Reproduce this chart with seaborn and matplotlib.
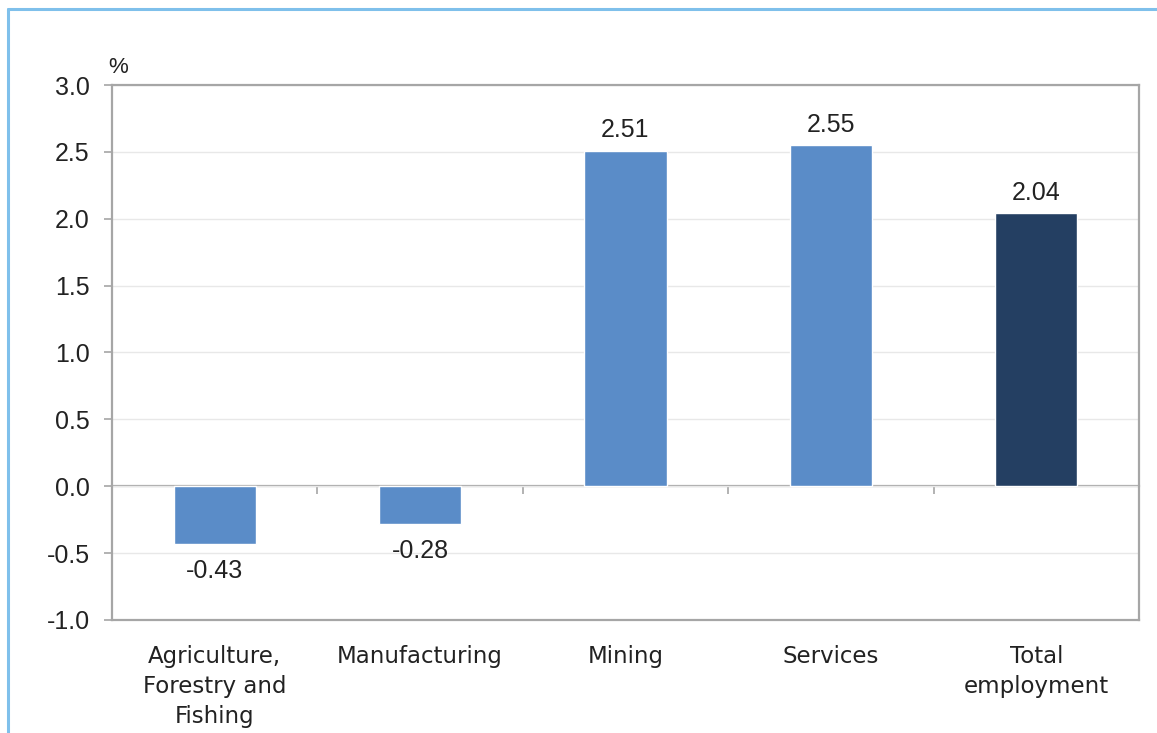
import matplotlib
matplotlib.use("Agg")
import matplotlib.pyplot as plt
from matplotlib.lines import Line2D
import seaborn as sns
import pandas as pd

categories = ["Agriculture,\nForestry and\nFishing", "Manufacturing", "Mining",
              "Services", "Total\nemployment"]
values = [-0.43, -0.28, 2.51, 2.55, 2.04]
bar_colors = ["#5a8cc8", "#5a8cc8", "#5a8cc8", "#5a8cc8", "#243f62"]
y_ticks = [-1.0, -0.5, 0.0, 0.5, 1.0, 1.5, 2.0, 2.5, 3.0]

sns.set_theme(style="white")
plt.rcParams["font.family"] = ["Liberation Sans", "DejaVu Sans"]

df = pd.DataFrame({"category": categories, "value": values})

fig = plt.figure(figsize=(11.57, 7.33), dpi=100)
ax = fig.add_axes([0.0968, 0.1542, 0.8876, 0.7298])

sns.barplot(data=df, x="category", y="value", hue="category",
            palette=bar_colors, width=0.4, legend=False, saturation=1,
            ax=ax, zorder=3)

grey = "#a6a6a6"
text_color = "#222222"
ax.set_ylim(-1.0, 3.0)
ax.set_xlim(-0.5, len(categories) - 0.5)
ax.set_yticks(y_ticks)
ax.set_yticklabels([f"{v:.1f}" for v in y_ticks])
ax.yaxis.grid(True, color="#e8e8e8", linewidth=1.0, zorder=0)
ax.set_axisbelow(True)
ax.set_xlabel("")
ax.set_ylabel("")

for s in ax.spines.values():
    s.set_visible(True)
    s.set_color(grey)
    s.set_linewidth(1.6)

ax.tick_params(axis="y", direction="out", length=6, width=1.2, color=grey,
               labelsize=18, labelcolor=text_color, pad=10, left=True)
ax.tick_params(axis="x", length=0, pad=18)
for lbl in ax.get_xticklabels():
    lbl.set_fontfamily(["DejaVu Sans"])
    lbl.set_fontsize(16.5)
    lbl.set_color(text_color)
    lbl.set_linespacing(1.4)

# zero line with category separators
zero_ax = ax.secondary_xaxis(0.25)
zero_ax.set_xticks([i + 0.5 for i in range(len(categories) - 1)])
zero_ax.set_xticklabels([])
zero_ax.spines["bottom"].set_color(grey)
zero_ax.spines["bottom"].set_linewidth(1.6)
zero_ax.tick_params(axis="x", direction="out", length=6, width=1.2, color=grey)

for c in ax.containers:
    v = c.datavalues[0]
    ax.bar_label(c, labels=[f"{x:.2f}" for x in c.datavalues],
                 padding=6 if v >= 0 else 11, fontsize=18, color=text_color)

ax.text(-0.004, 1.014, "%", transform=ax.transAxes, fontsize=16,
        color=text_color, ha="left", va="bottom")

# outer frame
frame_color = "#7fc0eb"
fig.add_artist(Line2D([0.0069, 1.0], [0.9877, 0.9877], color=frame_color,
                      linewidth=2.2, transform=fig.transFigure))
fig.add_artist(Line2D([0.0069, 0.0069], [0.0, 0.9877], color=frame_color,
                      linewidth=2.2, transform=fig.transFigure))

fig.savefig("out.png", dpi=100)
